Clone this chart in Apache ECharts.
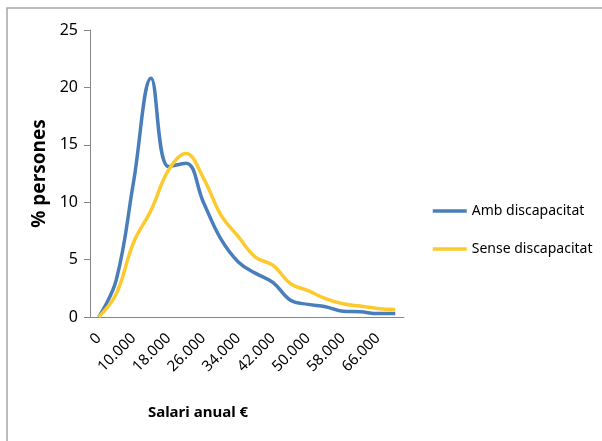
<!DOCTYPE html>
<html>
<head>
<meta charset="utf-8">
<script src="https://cdn.jsdelivr.net/npm/echarts@6/dist/echarts.min.js"></script>
<style>
  html, body { margin: 0; padding: 0; background: #fff; }
  #chart { width: 602px; height: 441px; }
</style>
</head>
<body>
<div id="chart"></div>
<script>
// salary bands (only every other one is labelled on the axis)
var categories = ['0', '6.000', '10.000', '14.000', '18.000', '22.000', '26.000', '30.000', '34.000',
    '38.000', '42.000', '46.000', '50.000', '54.000', '58.000', '62.000', '66.000', '70.000'];
var ambDiscapacitat = [0, 3.2, 11.8, 20.8, 13.1, 13.4, 10.0, 6.8, 4.8, 3.8, 3.0, 1.45, 1.1, 0.9, 0.5, 0.45, 0.3, 0.3];
var senseDiscapacitat = [0, 2.0, 6.5, 9.3, 12.8, 14.25, 12.1, 8.9, 7.0, 5.2, 4.5, 2.9, 2.3, 1.6, 1.15, 0.95, 0.75, 0.65];
var seriesNames = ['Amb discapacitat', 'Sense discapacitat'];
var yTicks = { min: 0, max: 25, interval: 5 };

var font = "'Noto Sans', sans-serif";
var chart = echarts.init(document.getElementById('chart'));
chart.setOption({
    animation: false,
    color: ['#4a7ebb', '#fdca2e'],
    textStyle: { fontFamily: font },
    grid: { left: 90, top: 30, right: 198, bottom: 124, containLabel: false },
    graphic: [
        {
            type: 'rect',
            shape: { x: 7, y: 8, width: 700, height: 500 },
            style: { fill: 'none', stroke: '#a6a6a6', lineWidth: 1.5 },
            silent: true
        },
        {
            type: 'text',
            style: {
                text: 'Salari anual €', x: 198, y: 413, align: 'center', verticalAlign: 'middle',
                font: "bold 15px 'Noto Sans', sans-serif", fill: '#000'
            },
            silent: true
        }
    ],
    legend: {
        data: seriesNames,
        orient: 'vertical',
        left: 426,
        top: 199,
        itemWidth: 34,
        itemHeight: 14,
        itemGap: 24,
        itemStyle: { opacity: 0 },
        lineStyle: { width: 3.5 },
        textStyle: { fontSize: 14, color: '#000', fontFamily: font }
    },
    xAxis: {
        type: 'category',
        data: categories,
        boundaryGap: true,
        axisLine: { lineStyle: { color: '#868686', width: 1 } },
        axisTick: { length: 5, interval: 0, lineStyle: { color: '#868686' } },
        axisLabel: { interval: 1, rotate: 45, fontSize: 15, color: '#000', margin: 19, fontFamily: font },
        splitLine: { show: false }
    },
    yAxis: {
        type: 'value',
        min: yTicks.min,
        max: yTicks.max,
        interval: yTicks.interval,
        name: '% persones',
        nameLocation: 'middle',
        nameGap: 36,
        nameTextStyle: { fontSize: 19, fontWeight: 'bold', color: '#000', fontFamily: font },
        axisLine: { show: true, lineStyle: { color: '#868686', width: 1 } },
        axisTick: { show: true, length: 6, lineStyle: { color: '#868686' } },
        axisLabel: { fontSize: 16, color: '#000', margin: 12, fontFamily: font },
        splitLine: { show: false }
    },
    series: [
        {
            name: seriesNames[0],
            type: 'line',
            data: ambDiscapacitat,
            smooth: 0.4,
            symbol: 'none',
            lineStyle: { width: 3.5 }
        },
        {
            name: seriesNames[1],
            type: 'line',
            data: senseDiscapacitat,
            smooth: 0.4,
            symbol: 'none',
            lineStyle: { width: 3.5 }
        }
    ]
});
</script>
</body>
</html>
